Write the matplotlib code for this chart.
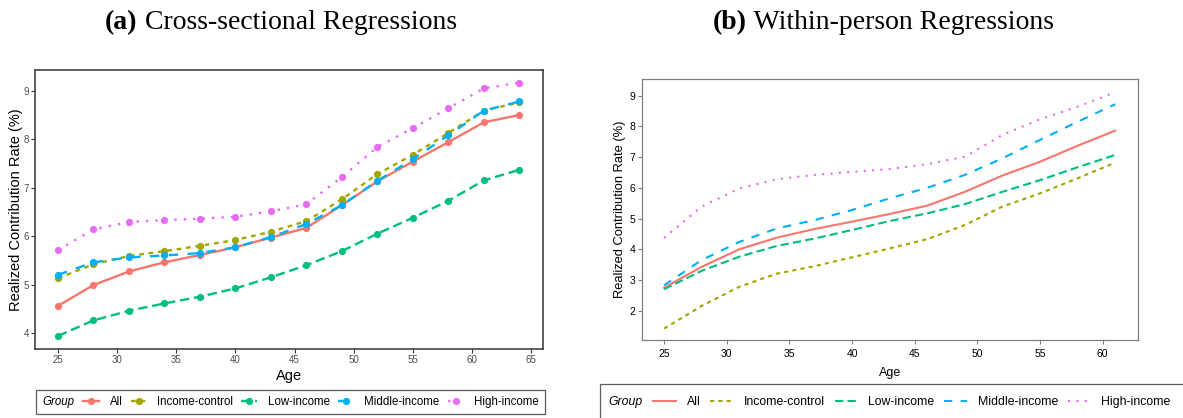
import numpy as np
import matplotlib
matplotlib.use('Agg')
import matplotlib.pyplot as plt
from matplotlib.offsetbox import HPacker, DrawingArea

# groups and ggplot default colours / linetypes
groups = ['All', 'Income-control', 'Low-income', 'Middle-income', 'High-income']
colors = ['#F8766D', '#A3A500', '#00BF7D', '#00B0F6', '#E76BF3']
linestyles = ['-', (0, (2, 2)), (0, (4, 2)), (0, (4, 4)), (0, (1, 3))]

# (a) cross-sectional regressions
ages_a = [25, 28, 31, 34, 37, 40, 43, 46, 49, 52, 55, 58, 61, 64]
cs_all = [4.56, 4.99, 5.27, 5.46, 5.61, 5.77, 5.97, 6.17, 6.64, 7.13, 7.54, 7.94, 8.35, 8.50]
cs_control = [5.13, 5.42, 5.59, 5.69, 5.80, 5.92, 6.09, 6.31, 6.76, 7.28, 7.68, 8.13, 8.59, 8.76]
cs_low = [3.94, 4.26, 4.46, 4.61, 4.75, 4.92, 5.15, 5.40, 5.69, 6.05, 6.38, 6.73, 7.15, 7.37]
cs_mid = [5.20, 5.46, 5.56, 5.60, 5.65, 5.77, 5.98, 6.25, 6.64, 7.14, 7.59, 8.08, 8.59, 8.78]
cs_high = [5.71, 6.14, 6.29, 6.33, 6.36, 6.40, 6.51, 6.66, 7.22, 7.84, 8.23, 8.64, 9.05, 9.17]

# (b) within-person regressions
ages_b = [25, 28, 31, 34, 37, 40, 43, 46, 49, 52, 55, 58, 61]
wp_all = [2.75, 3.43, 4.00, 4.38, 4.66, 4.90, 5.15, 5.42, 5.87, 6.40, 6.85, 7.37, 7.86]
wp_control = [1.42, 2.16, 2.78, 3.21, 3.45, 3.74, 4.03, 4.33, 4.79, 5.39, 5.82, 6.31, 6.82]
wp_low = [2.70, 3.30, 3.76, 4.11, 4.35, 4.63, 4.92, 5.17, 5.47, 5.87, 6.25, 6.67, 7.07]
wp_mid = [2.83, 3.65, 4.24, 4.68, 4.95, 5.28, 5.66, 6.00, 6.42, 6.96, 7.56, 8.15, 8.72]
wp_high = [4.37, 5.39, 5.98, 6.28, 6.42, 6.52, 6.61, 6.77, 7.01, 7.72, 8.23, 8.64, 9.11]

series_a = [cs_all, cs_control, cs_low, cs_mid, cs_high]
series_b = [wp_all, wp_control, wp_low, wp_mid, wp_high]

plt.rcParams['font.family'] = ['Liberation Sans', 'DejaVu Sans']

fig = plt.figure(figsize=(11.83, 4.18), dpi=100)
ax1 = fig.add_axes([0.0296, 0.1651, 0.4294, 0.6675])
ax2 = fig.add_axes([0.5427, 0.1866, 0.4193, 0.6244])


def inline_title(leg, sep, extra=None):
    # put the legend title on the same row as the keys (ggplot style)
    box = leg._legend_box
    kids = list(box.get_children())
    if extra is not None:
        kids.append(extra)
    new = HPacker(pad=box.pad, sep=sep, align='center', children=kids)
    new.set_figure(leg.figure)
    new.set_offset(leg._findoffset)
    leg._legend_box = new
    leg.get_title().set_fontstyle('italic')


# ---- panel (a)
h1 = []
for vals, name, c, ls in zip(series_a, groups, colors, linestyles):
    ln, = ax1.plot(ages_a, vals, color=c, linestyle=ls, lw=1.7,
                   marker='o', ms=5.2, mew=0, label=name)
    h1.append(ln)
ax1.set_xlim(23.06, 66.0)
ax1.set_ylim(3.67, 9.43)
ax1.set_xticks([25, 30, 35, 40, 45, 50, 55, 60, 65])
ax1.set_yticks([4, 5, 6, 7, 8, 9])
ax1.tick_params(length=3, width=0.8, color='#333333', labelsize=7,
                labelcolor='#4D4D4D', pad=1.5)
for s in ax1.spines.values():
    s.set_color('#333333')
    s.set_linewidth(1.1)
ax1.set_xlabel('Age', fontsize=10.5, labelpad=3)
ax1.set_ylabel('Realized Contribution Rate (%)', fontsize=10.5, labelpad=0)

# ---- panel (b)
h2 = []
for vals, name, c, ls in zip(series_b, groups, colors, linestyles):
    ln, = ax2.plot(ages_b, vals, color=c, linestyle=ls, lw=1.5, label=name)
    h2.append(ln)
ax2.set_xlim(23.24, 62.82)
ax2.set_ylim(1.05, 9.54)
ax2.set_xticks([25, 30, 35, 40, 45, 50, 55, 60])
ax2.set_yticks([2, 3, 4, 5, 6, 7, 8, 9])
ax2.tick_params(length=3, width=0.8, color='#7F7F7F', labelsize=7.5,
                labelcolor='black', pad=3.5)
ax2.tick_params(axis='y', pad=2)
for s in ax2.spines.values():
    s.set_color('#7F7F7F')
    s.set_linewidth(0.9)
ax2.set_xlabel('Age', fontsize=9, labelpad=6)
ax2.set_ylabel('Realized Contribution Rate (%)', fontsize=9.3, labelpad=2)

# ---- legends
leg1 = fig.legend(handles=h1, loc='center', bbox_to_anchor=(0.2456, 0.0383),
                  ncol=5, title='Group', fontsize=8.3, title_fontsize=8.3,
                  numpoints=1, handlelength=1.4, handletextpad=0.9,
                  columnspacing=0.7, borderpad=0.55, fancybox=False,
                  frameon=True)
leg1.get_frame().set_edgecolor('#333333')
leg1.get_frame().set_linewidth(0.9)
inline_title(leg1, sep=6.5)

leg2 = fig.legend(handles=h2, loc='center left', bbox_to_anchor=(0.5021, 0.0383),
                  ncol=5, title='Group', fontsize=8.8, title_fontsize=8.8,
                  handlelength=1.9, handletextpad=0.85, columnspacing=0.8,
                  borderpad=0.7, fancybox=False, frameon=True)
leg2.get_frame().set_edgecolor('#333333')
leg2.get_frame().set_linewidth(0.9)
inline_title(leg2, sep=7.2, extra=DrawingArea(60, 14))

# ---- panel titles: bold tag + normal text
serif = ['Liberation Serif', 'DejaVu Serif']
for x0, tag, rest in [(0.0888, '(a)', ' Cross-sectional Regressions'),
                      (0.6027, '(b)', ' Within-person Regressions')]:
    t = fig.text(x0, 0.947, tag, fontsize=20, fontweight='bold',
                 family=serif, ha='left', va='center')
    fig.add_artist(plt.Annotation(rest, xy=(1, 0), xycoords=t, fontsize=20,
                                  family=serif, ha='left', va='bottom'))

fig.savefig('out.png', dpi=100)
